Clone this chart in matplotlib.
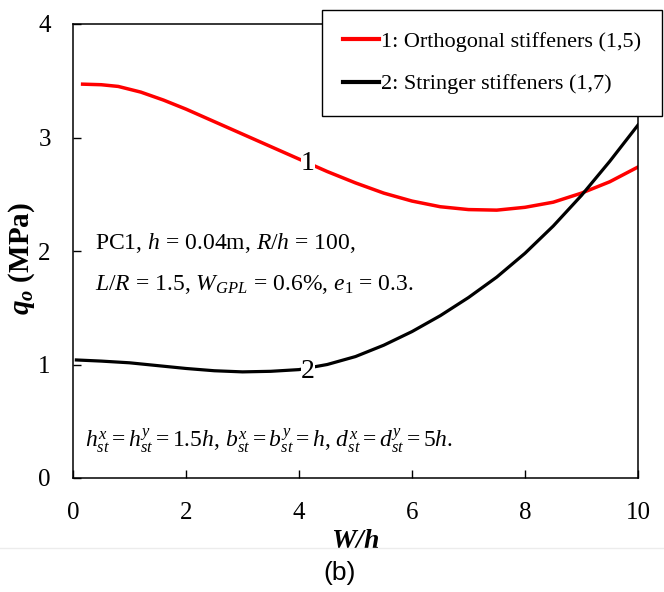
import matplotlib
matplotlib.use("Agg")
import matplotlib.pyplot as plt
from matplotlib.lines import Line2D

plt.rcParams['font.family'] = ['Liberation Serif', 'DejaVu Serif']
plt.rcParams['mathtext.fontset'] = 'custom'
plt.rcParams['mathtext.rm'] = 'Liberation Serif'
plt.rcParams['mathtext.it'] = 'Liberation Serif:italic'
plt.rcParams['mathtext.bf'] = 'Liberation Serif:italic:bold'

# curve 1 : orthogonal stiffeners (1,5)
x_orth = [0.17, 0.5, 0.8, 1.2, 1.6, 2.0, 2.5, 3.0, 3.5, 4.0, 4.5, 5.0, 5.5,
          6.0, 6.5, 7.0, 7.5, 8.0, 8.5, 9.0, 9.5, 10.0]
q_orth = [3.47, 3.465, 3.45, 3.40, 3.33, 3.25, 3.14, 3.03, 2.92, 2.81, 2.70,
          2.60, 2.51, 2.44, 2.39, 2.365, 2.36, 2.385, 2.43, 2.51, 2.61, 2.74]

# curve 2 : stringer stiffeners (1,7)
x_str = [0.06, 0.5, 1.0, 1.5, 2.0, 2.5, 3.0, 3.5, 4.0, 4.5, 5.0, 5.5, 6.0,
         6.5, 7.0, 7.5, 8.0, 8.5, 9.0, 9.5, 10.0]
q_str = [1.04, 1.03, 1.015, 0.99, 0.965, 0.945, 0.935, 0.94, 0.955, 1.0, 1.07,
         1.17, 1.29, 1.43, 1.59, 1.77, 1.98, 2.22, 2.49, 2.79, 3.11]

labels = ['1: Orthogonal stiffeners (1,5)', '2: Stringer stiffeners (1,7)']
xticks = [0, 2, 4, 6, 8, 10]
yticks = [0, 1, 2, 3, 4]

fig = plt.figure(figsize=(6.64, 5.92), dpi=100)
ax = fig.add_axes([73/664, 1-478/592, 565/664, 454/592])

l1, = ax.plot(x_orth, q_orth, color='#ff0000', lw=2.5, solid_joinstyle='round')
l2, = ax.plot(x_str, q_str, color='black', lw=2.3, solid_joinstyle='round')

# numbers sitting on the curves
ax.text(4.16, 2.77, '1', fontsize=20, ha='center', va='center',
        bbox=dict(fc='white', ec='none', pad=0.3))
ax.text(4.16, 0.935, '2', fontsize=20, ha='center', va='center',
        bbox=dict(fc='white', ec='none', pad=0.3))

ax.text(0.39, 2.02, r'PC1, $h$ = 0.04m, $R/h$ = 100,', fontsize=17, va='baseline')
ax.text(0.39, 1.66, r'$L/R$ = 1.5, $W_{GPL}$ = 0.6%, $e_1$ = 0.3.', fontsize=17, va='baseline')
ax.text(0.21, 0.27, r'$h_{st}^x = h_{st}^y = 1.5h$, $b_{st}^x = b_{st}^y = h$, $d_{st}^x = d_{st}^y = 5h$.',
        fontsize=17, va='baseline')

ax.set_xlim(0, 10)
ax.set_ylim(0, 4)
ax.set_xticks(xticks)
ax.set_yticks(yticks)
ax.tick_params(axis='x', direction='in', length=6, width=1, pad=17, labelsize=18)
ax.tick_params(axis='y', direction='in', length=6, width=1, pad=16, labelsize=18)
for s in ax.spines.values():
    s.set_linewidth(1.1)

ax.set_xlabel(r'$\mathbf{W/h}$', fontsize=20, labelpad=4)
fig.text(22/664, 1-258/592, r'$\mathbf{q_o}$ (MPa)', fontsize=21, fontweight='bold',
         rotation=90, ha='center', va='center')

leg = fig.legend([l1, l2], labels, loc='upper right', bbox_to_anchor=(662/664, 1-10/592),
                 borderaxespad=0, fontsize=16, frameon=True, fancybox=False,
                 handlelength=1.6, handletextpad=0.1, borderpad=0.95, labelspacing=1.0)
leg.get_frame().set_edgecolor('black')
leg.get_frame().set_linewidth(1.0)
leg.get_frame().set_alpha(1)
for h in leg.get_lines():
    h.set_linewidth(3.0)

fig.add_artist(Line2D([0, 1], [1-548/592, 1-548/592], color='#ececec', lw=1))
fig.text(340/664, 1-573/592, '(b)', fontsize=19, family='Liberation Sans',
         ha='center', va='center')

fig.savefig('out.png', dpi=100)
